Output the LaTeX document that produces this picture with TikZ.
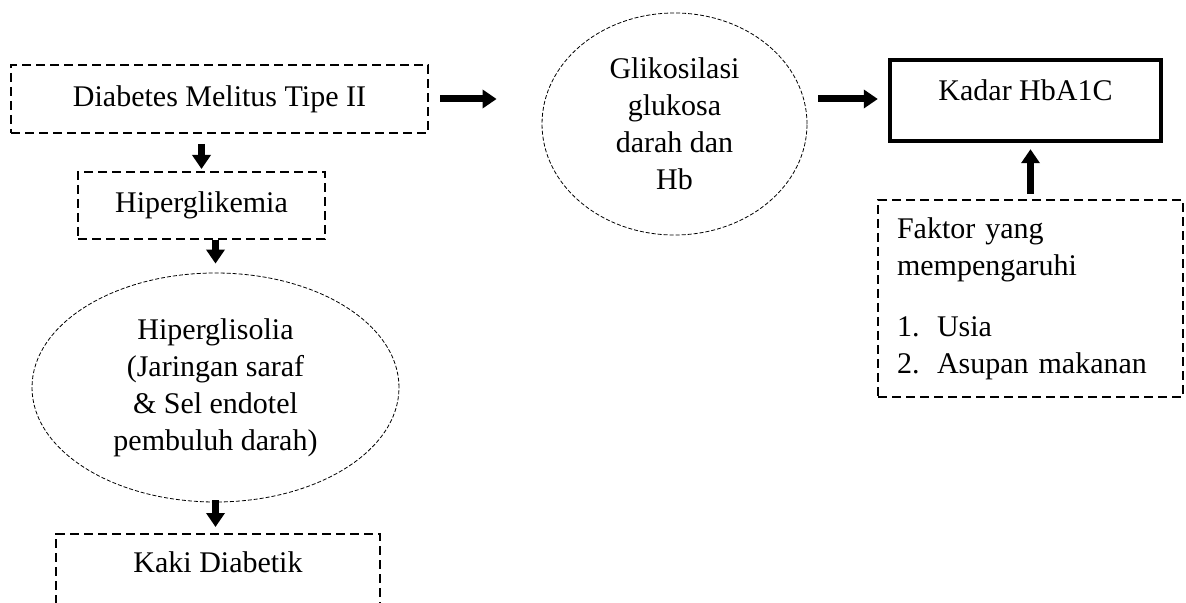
\documentclass[tikz,border=0pt]{standalone}
\usepackage{fontspec}
\setmainfont{Liberation Serif}
\usetikzlibrary{shapes, arrows.meta, positioning, calc}

\begin{document}
\begin{tikzpicture}[x=0.5pt, y=-0.5pt, every node/.style={font=\fontsize{15}{18.5}\selectfont},
			dashbox/.style={draw, rectangle, line width=1pt, dash pattern=on 4.5pt off 2.5pt},
			dashell/.style={draw, ellipse, line width=0.4pt, dash pattern=on 2pt off 1pt, inner sep=0pt, align=center},
			fatarrow/.style={line width=3.5pt, -{Triangle[width=9pt,length=7pt]}}]
			\useasboundingbox (0,0) rectangle (1186,603);
			\clip (0,0) rectangle (1186,603);
			\node[dashbox, minimum width=208.5pt, minimum height=34pt] (diabetes) at (219.5,99) {Diabetes Melitus Tipe II};
			\node[dashbox, minimum width=123.5pt, minimum height=33.5pt] (hiperglikemia) at (201.5,205.5) {Hiperglikemia};
			\node[dashell, minimum width=183.5pt, minimum height=114.5pt] (hiperglisolia) at (215.5,387.5) {Hiperglisolia\\(Jaringan saraf\\\& Sel endotel\\pembuluh darah)};
			\node[dashbox, anchor=north, minimum width=162pt, inner ysep=9pt, text height=10.3pt, text depth=30pt] (kaki) at (218,533) {Kaki Diabetik};
			\node[dashell, minimum width=132.5pt, minimum height=111pt] (glikosilasi) at (674.5,124) {Glikosilasi\\glukosa\\darah dan\\Hb};
			\node[draw, line width=2.2pt, minimum width=135.5pt, minimum height=40.5pt, text height=10pt, text depth=10pt] (kadar) at (1025.5,100.5) {Kadar HbA1C};
			\node[dashbox, text width=133.5pt, inner xsep=9.5pt, minimum height=98.5pt, align=left] (faktor) at (1030.5,298.5) {Faktor yang\\mempengaruhi\\[12pt]\makebox[20pt][l]{1.}Usia\\\makebox[20pt][l]{2.}Asupan makanan};
			\draw[fatarrow, shorten <=5.5pt, shorten >=22.5pt] (diabetes.east) -- (diabetes.east -| glikosilasi.west);
			\draw[fatarrow, shorten <=5.5pt, shorten >=5pt] (diabetes.east -| glikosilasi.east) -- (diabetes.east -| kadar.west);
			\draw[fatarrow, shorten <=2.5pt, shorten >=3pt] (faktor.north) -- (faktor.north |- kadar.south);
			\draw[fatarrow, shorten <=5pt, shorten >=1pt] (hiperglikemia.north |- diabetes.south) -- (hiperglikemia.north);
			\draw[fatarrow, shorten >=4.5pt] (hiperglisolia.north |- hiperglikemia.south) -- (hiperglisolia.north);
			\draw[fatarrow, shorten <=-1pt, shorten >=3pt] (hiperglisolia.south) -- (hiperglisolia.south |- kaki.north);
		\end{tikzpicture}
\end{document}
